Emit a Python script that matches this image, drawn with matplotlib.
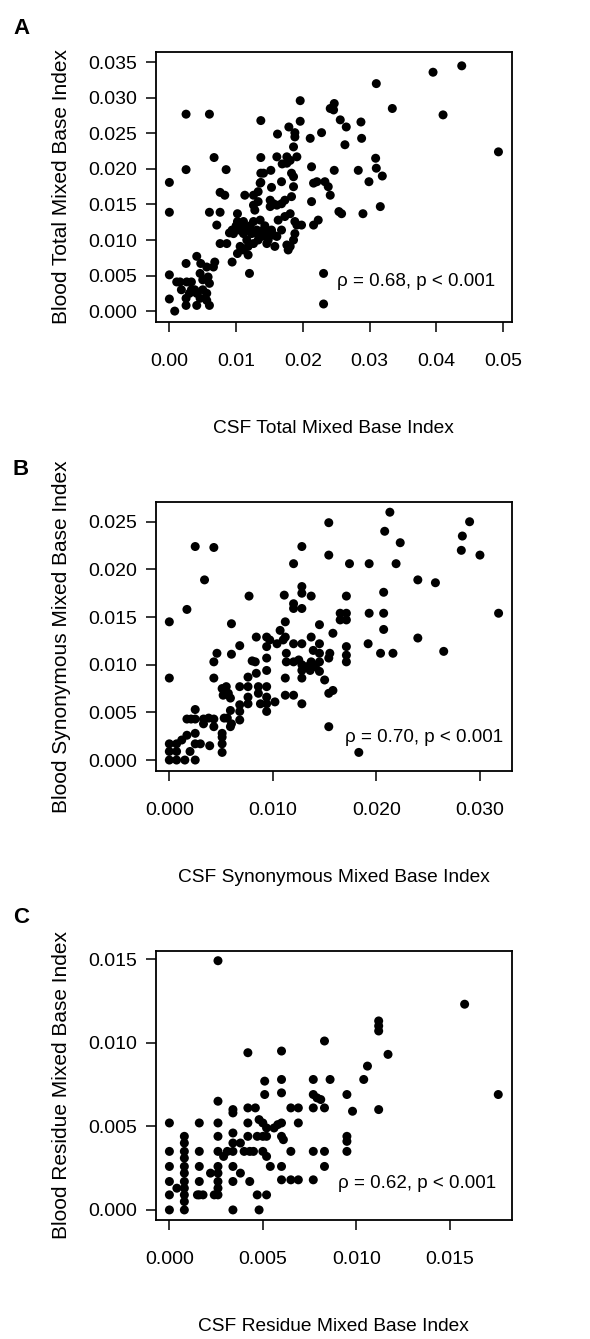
import numpy as np
import matplotlib
matplotlib.use("Agg")
import matplotlib.pyplot as plt

plt.rcParams['font.family'] = ['Liberation Sans', 'DejaVu Sans']

# Panel A: total mixed base index
csfTotal = [
    0.0000, 0.0000, 0.0000, 0.0000, 0.0008, 0.0025, 0.0025, 0.0060,
    0.0067, 0.0060, 0.0085, 0.0076, 0.0083, 0.0076, 0.0071, 0.0076,
    0.0086, 0.0094, 0.0120, 0.0137, 0.0137, 0.0137, 0.0137, 0.0025,
    0.0041, 0.0016, 0.0026, 0.0033, 0.0018, 0.0033, 0.0041, 0.0050,
    0.0056, 0.0060, 0.0056, 0.0066, 0.0068, 0.0047, 0.0046, 0.0050,
    0.0058, 0.0025, 0.0041, 0.0060, 0.0025, 0.0046, 0.0056, 0.0011,
    0.0038, 0.0030, 0.0094, 0.0096, 0.0102, 0.0102, 0.0105, 0.0111,
    0.0111, 0.0116, 0.0118, 0.0118, 0.0111, 0.0102, 0.0106, 0.0123,
    0.0126, 0.0131, 0.0133, 0.0126, 0.0136, 0.0141, 0.0146, 0.0148,
    0.0146, 0.0153, 0.0156, 0.0161, 0.0158, 0.0163, 0.0168, 0.0176,
    0.0178, 0.0173, 0.0181, 0.0188, 0.0191, 0.0198, 0.0188, 0.0186,
    0.0181, 0.0168, 0.0156, 0.0151, 0.0151, 0.0161, 0.0173, 0.0183,
    0.0186, 0.0186, 0.0183, 0.0176, 0.0181, 0.0191, 0.0186, 0.0188,
    0.0161, 0.0152, 0.0133, 0.0126, 0.0128, 0.0126, 0.0113, 0.0133,
    0.0136, 0.0141, 0.0168, 0.0176, 0.0162, 0.0179, 0.0188, 0.0196,
    0.0196, 0.0169, 0.0153, 0.0211, 0.0228, 0.0213, 0.0216, 0.0221,
    0.0213, 0.0216, 0.0223, 0.0233, 0.0238, 0.0241, 0.0247, 0.0246,
    0.0247, 0.0241, 0.0256, 0.0265, 0.0263, 0.0287, 0.0288, 0.0283,
    0.0290, 0.0258, 0.0254, 0.0299, 0.0309, 0.0310, 0.0319, 0.0316,
    0.0310, 0.0334, 0.0395, 0.0438, 0.0410, 0.0493, 0.0231, 0.0231,
    0.0090, 0.0100, 0.0108, 0.0115, 0.0121, 0.0128, 0.0138, 0.0143,
]
bloodTotal = [
    0.0181, 0.0139, 0.0051, 0.0017, 0.0000, 0.0277, 0.0199, 0.0277,
    0.0216, 0.0139, 0.0199, 0.0167, 0.0163, 0.0139, 0.0121, 0.0095,
    0.0095, 0.0069, 0.0053, 0.0268, 0.0216, 0.0194, 0.0181, 0.0067,
    0.0077, 0.0041, 0.0041, 0.0041, 0.0030, 0.0030, 0.0025, 0.0030,
    0.0025, 0.0039, 0.0062, 0.0062, 0.0069, 0.0067, 0.0053, 0.0044,
    0.0048, 0.0008, 0.0008, 0.0008, 0.0018, 0.0018, 0.0015, 0.0041,
    0.0030, 0.0025, 0.0114, 0.0109, 0.0137, 0.0126, 0.0114, 0.0126,
    0.0109, 0.0100, 0.0091, 0.0079, 0.0086, 0.0081, 0.0091, 0.0109,
    0.0126, 0.0114, 0.0100, 0.0095, 0.0128, 0.0114, 0.0109, 0.0100,
    0.0095, 0.0114, 0.0107, 0.0105, 0.0091, 0.0128, 0.0114, 0.0093,
    0.0086, 0.0133, 0.0137, 0.0126, 0.0121, 0.0121, 0.0109, 0.0100,
    0.0091, 0.0151, 0.0151, 0.0147, 0.0156, 0.0149, 0.0156, 0.0161,
    0.0175, 0.0189, 0.0194, 0.0217, 0.0212, 0.0217, 0.0231, 0.0245,
    0.0217, 0.0198, 0.0154, 0.0149, 0.0142, 0.0163, 0.0163, 0.0168,
    0.0180, 0.0194, 0.0182, 0.0208, 0.0249, 0.0259, 0.0251, 0.0296,
    0.0267, 0.0207, 0.0174, 0.0243, 0.0251, 0.0203, 0.0180, 0.0182,
    0.0154, 0.0121, 0.0128, 0.0182, 0.0175, 0.0163, 0.0198, 0.0283,
    0.0292, 0.0285, 0.0269, 0.0259, 0.0234, 0.0266, 0.0243, 0.0198,
    0.0137, 0.0137, 0.0140, 0.0182, 0.0215, 0.0201, 0.0190, 0.0147,
    0.0320, 0.0285, 0.0336, 0.0345, 0.0276, 0.0224, 0.0053, 0.0010,
    0.0110, 0.0120, 0.0120, 0.0115, 0.0120, 0.0110, 0.0105, 0.0120,
]

# Panel B: synonymous mixed base index
csfSyn = [
    0.0000, 0.0000, 0.0017, 0.0025, 0.0043, 0.0034, 0.0077, 0.0060,
    0.0068, 0.0060, 0.0043, 0.0043, 0.0046, 0.0000, 0.0000, 0.0000,
    0.0007, 0.0007, 0.0007, 0.0012, 0.0015, 0.0017, 0.0017, 0.0021,
    0.0025, 0.0025, 0.0025, 0.0025, 0.0025, 0.0020, 0.0030, 0.0033,
    0.0033, 0.0038, 0.0039, 0.0043, 0.0043, 0.0051, 0.0051, 0.0051,
    0.0051, 0.0053, 0.0059, 0.0056, 0.0060, 0.0059, 0.0068, 0.0068,
    0.0068, 0.0068, 0.0051, 0.0052, 0.0057, 0.0059, 0.0055, 0.0076,
    0.0076, 0.0076, 0.0076, 0.0080, 0.0083, 0.0084, 0.0086, 0.0086,
    0.0088, 0.0094, 0.0094, 0.0094, 0.0094, 0.0094, 0.0094, 0.0094,
    0.0094, 0.0084, 0.0102, 0.0097, 0.0104, 0.0107, 0.0110, 0.0112,
    0.0113, 0.0113, 0.0112, 0.0112, 0.0112, 0.0120, 0.0120, 0.0111,
    0.0120, 0.0120, 0.0128, 0.0128, 0.0128, 0.0137, 0.0128, 0.0120,
    0.0128, 0.0120, 0.0125, 0.0128, 0.0128, 0.0128, 0.0128, 0.0133,
    0.0136, 0.0137, 0.0141, 0.0139, 0.0137, 0.0145, 0.0145, 0.0145,
    0.0145, 0.0145, 0.0150, 0.0154, 0.0158, 0.0158, 0.0154, 0.0155,
    0.0154, 0.0154, 0.0154, 0.0174, 0.0171, 0.0165, 0.0171, 0.0165,
    0.0171, 0.0171, 0.0171, 0.0171, 0.0183, 0.0193, 0.0193, 0.0192,
    0.0207, 0.0207, 0.0207, 0.0204, 0.0216, 0.0208, 0.0213, 0.0219,
    0.0223, 0.0240, 0.0240, 0.0257, 0.0265, 0.0282, 0.0283, 0.0290,
    0.0300, 0.0318,
]
bloodSyn = [
    0.0145, 0.0086, 0.0158, 0.0224, 0.0223, 0.0189, 0.0172, 0.0143,
    0.0120, 0.0111, 0.0086, 0.0103, 0.0112, 0.0000, 0.0009, 0.0017,
    0.0000, 0.0009, 0.0017, 0.0021, 0.0000, 0.0026, 0.0043, 0.0043,
    0.0053, 0.0043, 0.0028, 0.0017, 0.0000, 0.0009, 0.0017, 0.0038,
    0.0043, 0.0044, 0.0015, 0.0043, 0.0035, 0.0024, 0.0017, 0.0008,
    0.0028, 0.0044, 0.0052, 0.0044, 0.0038, 0.0035, 0.0051, 0.0042,
    0.0058, 0.0077, 0.0075, 0.0068, 0.0070, 0.0065, 0.0077, 0.0059,
    0.0066, 0.0077, 0.0087, 0.0104, 0.0103, 0.0091, 0.0077, 0.0070,
    0.0059, 0.0051, 0.0059, 0.0066, 0.0077, 0.0094, 0.0107, 0.0119,
    0.0129, 0.0129, 0.0061, 0.0126, 0.0122, 0.0136, 0.0126, 0.0129,
    0.0112, 0.0103, 0.0145, 0.0086, 0.0068, 0.0068, 0.0206, 0.0173,
    0.0164, 0.0159, 0.0159, 0.0182, 0.0175, 0.0172, 0.0224, 0.0122,
    0.0122, 0.0103, 0.0105, 0.0100, 0.0094, 0.0086, 0.0059, 0.0098,
    0.0094, 0.0103, 0.0098, 0.0115, 0.0129, 0.0142, 0.0122, 0.0112,
    0.0103, 0.0093, 0.0084, 0.0070, 0.0073, 0.0133, 0.0107, 0.0112,
    0.0249, 0.0215, 0.0035, 0.0206, 0.0172, 0.0154, 0.0154, 0.0147,
    0.0147, 0.0119, 0.0110, 0.0103, 0.0008, 0.0206, 0.0154, 0.0122,
    0.0154, 0.0176, 0.0137, 0.0112, 0.0112, 0.0240, 0.0260, 0.0206,
    0.0228, 0.0189, 0.0128, 0.0186, 0.0114, 0.0220, 0.0235, 0.0250,
    0.0215, 0.0154,
]

# Panel C: residue mixed base index
csfRes = [
    0.0000, 0.0000, 0.0000, 0.0000, 0.0000, 0.0000, 0.0004, 0.0008,
    0.0008, 0.0008, 0.0008, 0.0008, 0.0008, 0.0008, 0.0008, 0.0008,
    0.0008, 0.0008, 0.0016, 0.0016, 0.0016, 0.0016, 0.0016, 0.0015,
    0.0018, 0.0022, 0.0026, 0.0026, 0.0026, 0.0026, 0.0026, 0.0026,
    0.0026, 0.0026, 0.0026, 0.0024, 0.0026, 0.0029, 0.0031, 0.0034,
    0.0034, 0.0034, 0.0034, 0.0034, 0.0034, 0.0034, 0.0034, 0.0038,
    0.0038, 0.0040, 0.0043, 0.0043, 0.0042, 0.0046, 0.0042, 0.0042,
    0.0047, 0.0045, 0.0042, 0.0048, 0.0050, 0.0052, 0.0050, 0.0052,
    0.0050, 0.0052, 0.0054, 0.0047, 0.0052, 0.0048, 0.0051, 0.0051,
    0.0056, 0.0058, 0.0060, 0.0060, 0.0061, 0.0060, 0.0060, 0.0060,
    0.0060, 0.0060, 0.0065, 0.0065, 0.0069, 0.0069, 0.0065, 0.0069,
    0.0077, 0.0077, 0.0077, 0.0079, 0.0083, 0.0081, 0.0086, 0.0083,
    0.0077, 0.0083, 0.0083, 0.0077, 0.0095, 0.0095, 0.0095, 0.0095,
    0.0098, 0.0104, 0.0106, 0.0112, 0.0112, 0.0112, 0.0112, 0.0117,
    0.0158, 0.0176,
]
bloodRes = [
    0.0052, 0.0035, 0.0026, 0.0017, 0.0009, 0.0000, 0.0013, 0.0044,
    0.0040, 0.0035, 0.0031, 0.0026, 0.0022, 0.0017, 0.0013, 0.0009,
    0.0005, 0.0000, 0.0052, 0.0035, 0.0026, 0.0017, 0.0009, 0.0009,
    0.0009, 0.0022, 0.0065, 0.0052, 0.0044, 0.0035, 0.0026, 0.0022,
    0.0017, 0.0013, 0.0009, 0.0009, 0.0149, 0.0032, 0.0035, 0.0060,
    0.0058, 0.0046, 0.0040, 0.0035, 0.0026, 0.0017, 0.0000, 0.0040,
    0.0022, 0.0035, 0.0017, 0.0035, 0.0061, 0.0061, 0.0052, 0.0044,
    0.0044, 0.0035, 0.0094, 0.0054, 0.0052, 0.0049, 0.0044, 0.0044,
    0.0035, 0.0032, 0.0026, 0.0009, 0.0009, 0.0000, 0.0077, 0.0069,
    0.0049, 0.0051, 0.0052, 0.0044, 0.0042, 0.0095, 0.0078, 0.0070,
    0.0026, 0.0018, 0.0035, 0.0061, 0.0061, 0.0052, 0.0018, 0.0018,
    0.0078, 0.0069, 0.0061, 0.0067, 0.0061, 0.0066, 0.0078, 0.0101,
    0.0035, 0.0035, 0.0026, 0.0018, 0.0069, 0.0044, 0.0035, 0.0041,
    0.0059, 0.0078, 0.0086, 0.0113, 0.0110, 0.0107, 0.0060, 0.0093,
    0.0123, 0.0069,
]

letters = ["A", "B", "C"]
xLabels = ["CSF Total Mixed Base Index", "CSF Synonymous Mixed Base Index",
           "CSF Residue Mixed Base Index"]
yLabels = ["Blood Total Mixed Base Index", "Blood Synonymous Mixed Base Index",
           "Blood Residue Mixed Base Index"]
notes = ["\u03c1 = 0.68, p < 0.001", "\u03c1 = 0.70, p < 0.001", "\u03c1 = 0.62, p < 0.001"]

xTicksA = ["0.00", "0.01", "0.02", "0.03", "0.04", "0.05"]
yTicksA = ["0.000", "0.005", "0.010", "0.015", "0.020", "0.025", "0.030", "0.035"]
xTicksB = ["0.000", "0.010", "0.020", "0.030"]
yTicksB = ["0.000", "0.005", "0.010", "0.015", "0.020", "0.025"]
xTicksC = ["0.000", "0.005", "0.010", "0.015"]
yTicksC = ["0.000", "0.005", "0.010", "0.015"]

panels = [
    dict(x=csfTotal, y=bloodTotal, xt=xTicksA, yt=yTicksA,
         pos=[0.264, 0.7597, 0.603, 0.2017], xlim=(-0.00204, 0.05126), ylim=(-0.0015, 0.03649),
         note=(0.02506, 0.00412), letterY=0.979),
    dict(x=csfSyn, y=bloodSyn, xt=xTicksB, yt=yTicksB,
         pos=[0.264, 0.4242, 0.603, 0.2011], xlim=(-0.00131, 0.03305), ylim=(-0.00115, 0.0271),
         note=(0.01696, 0.00234), letterY=0.649),
    dict(x=csfRes, y=bloodRes, xt=xTicksC, yt=yTicksC,
         pos=[0.264, 0.0889, 0.603, 0.2011], xlim=(-0.00073, 0.01831), ylim=(-0.0006, 0.0155),
         note=(0.00904, 0.0016), letterY=0.315),
]

fig = plt.figure(figsize=(5.9, 13.39), dpi=100)

for i, p in enumerate(panels):
    ax = fig.add_axes(p['pos'])
    ax.scatter(p['x'], p['y'], s=42, c='black', edgecolors='none')
    ax.set_xlim(*p['xlim'])
    ax.set_ylim(*p['ylim'])
    ax.set_xticks([float(t) for t in p['xt']])
    ax.set_xticklabels(p['xt'])
    ax.set_yticks([float(t) for t in p['yt']])
    ax.set_yticklabels(p['yt'])
    ax.tick_params(axis='both', direction='out', length=7.5, width=1.1, labelsize=14, colors='black')
    ax.tick_params(axis='x', pad=15)
    ax.tick_params(axis='y', pad=6)
    for sp in ax.spines.values():
        sp.set_linewidth(1.3)
    ax.set_xlabel(xLabels[i], fontsize=13.8)
    ax.xaxis.set_label_coords(0.5, -0.395)
    ax.xaxis.label.set_va('center')
    ax.set_ylabel(yLabels[i], fontsize=15)
    ax.yaxis.set_label_coords(-0.266, 0.5)
    ax.yaxis.label.set_va('center')
    ax.text(p['note'][0], p['note'][1], notes[i], fontsize=13.5, ha='left', va='center')
    fig.text(0.022, p['letterY'], letters[i], fontsize=16, fontweight='bold', ha='left', va='center')

fig.savefig('out.png', dpi=100)
